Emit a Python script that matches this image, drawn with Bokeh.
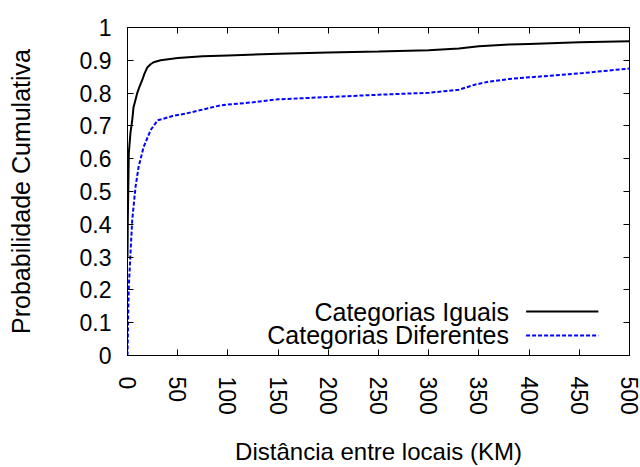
import math
from bokeh.plotting import figure
from bokeh.models import Range1d, FixedTicker, LinearAxis, Label, Arrow, CustomJSTickFormatter
from bokeh.embed import file_html
from bokeh.resources import INLINE

# ---- data ----
iguais_x = [0, 0.3, 1.3, 3, 4.7, 6, 8, 9.7, 12, 14.7, 17, 19.7, 23, 26, 33, 50, 75, 100, 150, 200, 250, 300, 330, 350, 380, 400, 450, 500]
iguais_y = [0.30, 0.41, 0.617, 0.68, 0.717, 0.757, 0.78, 0.80, 0.82, 0.84, 0.86, 0.878, 0.888, 0.894, 0.90, 0.907, 0.912, 0.915, 0.92, 0.924, 0.927, 0.931, 0.936, 0.943, 0.948, 0.950, 0.955, 0.958]

dif_x = [0, 0.3, 0.7, 1.3, 3, 4.7, 8, 11, 16, 23, 30, 45, 60, 93, 125, 150, 200, 250, 300, 330, 345, 360, 380, 400, 450, 500]
dif_y = [0.0, 0.05, 0.13, 0.21, 0.313, 0.413, 0.514, 0.574, 0.635, 0.687, 0.717, 0.73, 0.739, 0.763, 0.772, 0.781, 0.788, 0.795, 0.801, 0.81, 0.825, 0.835, 0.843, 0.848, 0.860, 0.875]

series_names = ["Categorias Iguais", "Categorias Diferentes"]
x_ticks = [0, 50, 100, 150, 200, 250, 300, 350, 400, 450, 500]
y_ticks = [0, 0.1, 0.2, 0.3, 0.4, 0.5, 0.6, 0.7, 0.8, 0.9, 1]
y_tick_labels = ["0", "0.1", "0.2", "0.3", "0.4", "0.5", "0.6", "0.7", "0.8", "0.9", "1"]

FONT = "Liberation Sans"
TICK_FS = "23px"
XLAB_FS = "24px"
YLAB_FS = "25px"
LEG_FS = "25px"

p = figure(width=640, height=467, output_backend="svg", toolbar_location=None,
           x_range=Range1d(0, 500), y_range=Range1d(0, 1),
           min_border_left=127, min_border_right=11, min_border_top=27, min_border_bottom=111)
p.grid.visible = False
p.outline_line_color = "black"
p.outline_line_width = 1
p.background_fill_color = "white"
p.border_fill_color = "white"

p.line(iguais_x, iguais_y, line_color="black", line_width=2)
p.line(dif_x, dif_y, line_color="#0000ff", line_width=2, line_dash="4 2")

def style(ax, ticks, show_labels, label_fs):
    ax.ticker = FixedTicker(ticks=ticks)
    ax.minor_tick_line_color = None
    ax.major_tick_in = 6
    ax.major_tick_out = 0
    ax.axis_line_color = "black"
    ax.major_tick_line_color = "black"
    ax.major_label_text_font = FONT
    ax.major_label_text_color = "black"
    ax.axis_label_text_font = FONT
    ax.axis_label_text_font_style = "normal"
    ax.axis_label_text_color = "black"
    ax.axis_label_text_font_size = label_fs
    if show_labels:
        ax.major_label_text_font_size = TICK_FS
    else:
        ax.formatter = CustomJSTickFormatter(code="return ''")
        ax.major_label_text_font_size = "1px"
        ax.major_label_standoff = 0

xa = p.xaxis[0]
style(xa, x_ticks, True, XLAB_FS)
xa.major_label_orientation = -math.pi / 2
xa.major_label_standoff = 21
xa.axis_label = "Distância entre locais (KM)"
xa.axis_label_standoff = 20

ya = p.yaxis[0]
style(ya, y_ticks, True, YLAB_FS)
ya.major_label_overrides = {t: l for t, l in zip(y_ticks, y_tick_labels)}
ya.major_label_standoff = 16
ya.axis_label = "Probabilidade Cumulativa"
ya.axis_label_standoff = 42

top = LinearAxis()
style(top, x_ticks, False, XLAB_FS)
p.add_layout(top, "above")
right = LinearAxis()
style(right, y_ticks, False, YLAB_FS)
p.add_layout(right, "right")

# legend (text right-aligned, sample line on its right)
leg_y = [0.134, 0.061]
colors = ["black", "#0000ff"]
dashes = ["solid", "4 2"]
for name, yy, c, d in zip(series_names, leg_y, colors, dashes):
    p.add_layout(Label(x=380, y=yy, text=name, text_align="right", text_baseline="middle",
                       text_font=FONT, text_font_size=LEG_FS, text_color="black"))
    p.add_layout(Arrow(end=None, x_start=397, y_start=yy, x_end=469, y_end=yy,
                       line_color=c, line_width=2, line_dash=d))

open("out.html", "w").write(file_html(p, INLINE))
